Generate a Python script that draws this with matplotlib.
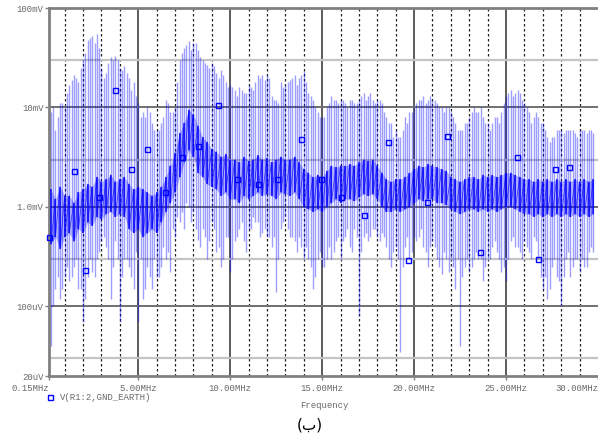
import numpy as np
import matplotlib
matplotlib.use('Agg')
import matplotlib.pyplot as plt
from matplotlib.lines import Line2D

# sampling grids of the spectrum (MHz)
freq_mhz = np.arange(0.25, 29.76, 0.25)
freq_mid = np.arange(0.125, 29.63, 0.25)

# spike tops (mV) on freq_mhz
peak_mv = [9, 6, 11, 10, 17, 21, 18, 31, 48, 52, 55, 25, 22, 32, 33, 25,
           26, 20, 18, 11, 9, 10, 7, 6, 7, 12, 9, 10, 30, 40, 47, 45,
           38, 30, 27, 28, 22, 24, 18, 17, 15, 16, 14, 17, 15, 21, 21, 21,
           13, 12, 18, 17, 19, 21, 20, 23, 14, 12, 9, 8, 10, 13, 12, 12,
           11, 12, 11, 12, 14, 13, 12, 12, 11, 8, 7, 6, 5, 8, 9, 10,
           12, 13, 12, 12, 11, 10, 10, 9, 7, 6, 7, 8, 10, 9, 8, 7,
           7, 8, 9, 13, 15, 14, 14, 11, 9, 8, 8, 7, 5, 5, 6, 6,
           6, 6, 5.5, 6, 6, 6, 5.5]

# spike bottoms (mV) on freq_mhz
dip_mv = [0.04, 0.15, 0.12, 0.2, 0.18, 0.25, 0.15, 0.07, 0.2, 0.22, 0.3, 0.45,
          0.4, 0.12, 0.45, 0.07, 0.3, 0.25, 0.15, 0.07, 0.12, 0.25, 0.15, 0.2,
          0.25, 0.3, 0.22, 0.5, 0.7, 0.6, 1.0, 0.9, 0.47, 0.6, 0.3, 0.7,
          0.35, 0.25, 0.5, 0.22, 0.45, 0.6, 0.45, 0.6, 0.8, 0.7, 0.55, 0.5,
          0.4, 0.14, 0.6, 0.8, 0.5, 0.45, 0.5, 0.3, 0.3, 0.15, 0.3, 0.25,
          0.3, 0.3, 0.45, 0.3, 0.5, 0.4, 0.6, 0.08, 0.5, 0.45, 0.6, 0.5,
          0.55, 0.4, 0.25, 0.4, 0.035, 0.4, 0.3, 0.5, 0.5, 0.4, 0.25, 0.45,
          0.3, 0.21, 0.3, 0.3, 0.15, 0.04, 0.25, 0.22, 0.3, 0.3, 0.18, 0.3,
          0.4, 0.35, 0.22, 0.18, 0.45, 0.4, 0.35, 0.45, 0.35, 0.5, 0.3, 0.15,
          0.12, 0.25, 0.2, 0.1, 0.3, 0.2, 0.3, 0.22, 0.25, 0.35, 0.35]

# spikes in between (mV) on freq_mid
peak_mid = [7, 10, 8, 11, 14, 19, 20, 25, 35, 50, 45, 40, 20, 28, 30, 30,
            24, 22, 15, 13, 8, 8, 9, 6, 6, 8, 11, 9, 18, 35, 42, 38,
            45, 32, 28, 25, 26, 20, 21, 16, 16, 13, 15, 14, 16, 18, 20, 19,
            20, 12, 11, 16, 18, 20, 17, 21, 18, 13, 10, 8, 8, 11, 12, 11,
            12, 10, 12, 11, 13, 12, 14, 11, 12, 9, 7, 5, 5, 6, 7, 9,
            11, 12, 11, 13, 12, 10, 9, 10, 8, 6, 6, 7, 9, 9, 10, 7,
            6, 8, 7, 11, 14, 13, 15, 12, 10, 7, 9, 7, 6, 4.5, 5, 6,
            5.5, 6, 6, 5, 6, 5.5, 6]
dip_mid = [0.3, 0.1, 0.2, 0.15, 0.25, 0.2, 0.3, 0.15, 0.12, 0.3, 0.2, 0.35,
           0.5, 0.3, 0.25, 0.3, 0.2, 0.3, 0.2, 0.35, 0.3, 0.15, 0.2, 0.3,
           0.2, 0.4, 0.35, 0.6, 0.8, 0.9, 1.1, 0.7, 0.6, 0.4, 0.5, 0.45,
           0.6, 0.4, 0.3, 0.5, 0.3, 0.5, 0.7, 0.35, 0.6, 0.7, 0.5, 0.6,
           0.5, 0.5, 0.3, 0.7, 0.6, 0.5, 0.35, 0.4, 0.4, 0.25, 0.2, 0.35,
           0.25, 0.4, 0.35, 0.5, 0.45, 0.6, 0.35, 0.5, 0.35, 0.55, 0.5, 0.6,
           0.45, 0.5, 0.3, 0.35, 0.3, 0.25, 0.5, 0.35, 0.45, 0.6, 0.35, 0.4,
           0.4, 0.25, 0.35, 0.22, 0.25, 0.3, 0.2, 0.3, 0.25, 0.35, 0.3, 0.25,
           0.3, 0.45, 0.3, 0.25, 0.3, 0.5, 0.4, 0.3, 0.4, 0.3, 0.45, 0.2,
           0.2, 0.15, 0.3, 0.18, 0.2, 0.35, 0.25, 0.3, 0.3, 0.25, 0.4]

# dense noise band (mV) on freq_mhz
band_hi = [1.5, 1.2, 1.6, 1.3, 1.3, 1.1, 1.4, 1.5, 1.7, 1.6, 2.0, 1.8,
           1.9, 2.1, 1.8, 1.9, 2.0, 1.7, 1.5, 1.6, 1.5, 1.4, 1.3, 1.4,
           1.6, 2.0, 2.6, 3.5, 5.5, 7, 9.5, 8.5, 6.5, 5, 4.5, 3.8,
           3.6, 3.2, 3.4, 3.0, 3.0, 2.8, 3.2, 2.9, 3.0, 3.3, 3.0, 3.1,
           2.8, 3.0, 3.2, 3.0, 3.0, 3.2, 2.8, 2.4, 2.2, 2.0, 2.1, 2.0,
           2.3, 2.6, 2.5, 2.6, 2.6, 2.7, 2.6, 2.8, 3.0, 2.9, 3.0, 2.6,
           2.2, 1.9, 1.8, 1.9, 1.9, 2.0, 2.2, 2.4, 2.6, 2.5, 2.7, 2.6,
           2.5, 2.4, 2.3, 2.0, 1.9, 1.8, 1.9, 2.0, 2.0, 1.9, 2.1, 2.0,
           2.1, 2.0, 2.1, 2.2, 2.2, 2.1, 2.0, 1.9, 1.9, 1.8, 1.9, 1.8,
           1.9, 1.8, 1.9, 1.8, 1.9, 1.8, 1.9, 1.8, 1.9, 1.8, 1.9]
band_lo = [0.42, 0.5, 0.38, 0.5, 0.55, 0.45, 0.6, 0.55, 0.7, 0.65, 0.8, 0.75,
           0.85, 0.9, 0.8, 0.85, 0.8, 0.6, 0.55, 0.6, 0.5, 0.55, 0.6, 0.55,
           0.7, 0.9, 1.1, 1.4, 2.0, 2.8, 3.7, 3.2, 2.2, 2.0, 1.7, 1.6,
           1.5, 1.3, 1.4, 1.2, 1.2, 1.1, 1.3, 1.2, 1.3, 1.4, 1.3, 1.35,
           1.3, 1.2, 1.4, 1.35, 1.3, 1.4, 1.2, 1.0, 0.95, 0.9, 0.95, 0.9,
           1.0, 1.1, 1.2, 1.1, 1.2, 1.2, 1.15, 1.25, 1.35, 1.3, 1.35, 1.2,
           1.0, 0.9, 0.9, 0.95, 0.9, 0.95, 1.0, 1.1, 1.2, 1.15, 1.2, 1.2,
           1.1, 1.1, 1.05, 0.95, 0.9, 0.85, 0.9, 0.95, 0.95, 0.9, 0.95, 0.9,
           0.95, 0.9, 0.95, 1.0, 1.0, 0.95, 0.9, 0.85, 0.85, 0.8, 0.85, 0.8,
           0.85, 0.8, 0.85, 0.8, 0.85, 0.8, 0.85, 0.8, 0.85, 0.8, 0.85]

# trace markers
marker_mhz = [0.15, 1.51, 2.11, 2.87, 3.74, 4.61, 5.48, 6.45, 7.38, 8.25, 9.33,
              10.37, 11.51, 12.54, 13.85, 14.93, 16.02, 17.27, 18.57, 19.66,
              20.69, 21.78, 23.57, 25.58, 26.73, 27.65, 28.41]
marker_mv = [0.50, 2.3, 0.23, 1.26, 15, 2.4, 3.8, 1.42, 3.2, 4.1, 10.6,
             1.9, 1.7, 1.9, 4.8, 1.9, 1.26, 0.84, 4.5, 0.29,
             1.13, 5.2, 0.35, 3.2, 0.30, 2.4, 2.5]

x_ticks = [0.15, 5, 10, 15, 20, 25, 30]
x_labels = ['0.15MHz', '5.00MHz', '10.00MHz', '15.00MHz', '20.00MHz', '25.00MHz', '30.00MHz']
y_ticks = [100, 10, 1, 0.1, 0.02]
y_labels = ['100mV', '10mV', '1.0mV', '100uV', '20uV']

W, H = 598, 434
mono = 'Liberation Mono'
txt_col = '#6a6a6a'
blue = '#0000ff'

fig = plt.figure(figsize=(W / 100, H / 100), dpi=100)
fig.patch.set_facecolor('white')
ax = fig.add_axes([49 / W, (H - 376) / H, (598 - 49) / W, (376 - 8) / H])
ax.set_yscale('log')
ax.set_xlim(0.15, 30)
ax.set_ylim(0.02, 100)

# grid
for m in range(1, 30):
    if m % 5:
        ax.axvline(m, color='#202020', lw=0.9, ls=(0, (2, 2)), zorder=1)
for m in [5, 10, 15, 20, 25]:
    ax.axvline(m, color='#404040', lw=1.2, zorder=1)
for v in [30, 3, 0.3, 0.03]:
    ax.axhline(v, color='#c4c4c4', lw=1.6, zorder=1)
for v in [10, 1, 0.1]:
    ax.axhline(v, color='#707070', lw=1.4, zorder=1)

# spikes
ax.vlines(freq_mhz, dip_mv, peak_mv, color=blue, alpha=0.38, lw=1.0, zorder=2)
ax.vlines(freq_mid, dip_mid, peak_mid, color=blue, alpha=0.38, lw=1.0, zorder=2)

# dense band
ax.fill_between(freq_mhz, band_lo, band_hi, color=blue, alpha=0.28, lw=0, zorder=3)
ax.vlines(freq_mhz, band_lo, band_hi, color=blue, lw=1.1, alpha=0.8, zorder=3)
zz_x = np.repeat(freq_mhz, 2)
zz_y = np.column_stack([band_hi, band_lo]).ravel()
ax.plot(zz_x, zz_y, color=blue, lw=0.5, alpha=0.75, zorder=3)

ax.plot(marker_mhz, marker_mv, ls='none', marker='s', ms=3.6, mfc='none',
        mec=blue, mew=1.0, zorder=5, clip_on=False)

# axes styling
for s in ['top', 'bottom', 'left']:
    ax.spines[s].set_color('#808080')
    ax.spines[s].set_linewidth(2)
ax.spines['right'].set_visible(False)

ax.set_xticks(x_ticks)
ax.set_xticklabels(x_labels)
ax.set_yticks(y_ticks)
ax.set_yticklabels(y_labels)
ax.yaxis.set_minor_locator(matplotlib.ticker.NullLocator())
ax.tick_params(axis='both', colors='#808080', labelcolor=txt_col, length=3,
               width=1, labelsize=6.5)
ax.tick_params(axis='x', pad=3)
ax.tick_params(axis='y', pad=1)
for lab in ax.get_xticklabels() + ax.get_yticklabels():
    lab.set_family(mono)
xl = ax.get_xticklabels()
xl[0].set_ha('right')
xl[-1].set_ha('right')

# legend and captions
fig.add_artist(Line2D([50 / W], [1 - 397 / H], marker='s', ms=3.6, mfc='none',
                      mec=blue, mew=1.0, ls='none'))
fig.text(60 / W, 1 - 397 / H, 'V(R1:2,GND_EARTH)', family=mono, fontsize=6.5,
         color=txt_col, va='center', ha='left')
fig.text(324 / W, 1 - 405 / H, 'Frequency', family=mono, fontsize=6.5,
         color=txt_col, va='center', ha='center')
fig.text(310 / W, 1 - 425 / H, '(ب)', fontsize=11, color='black',
         va='center', ha='center', family=['DejaVu Sans'])

fig.savefig('out.png', dpi=100)
